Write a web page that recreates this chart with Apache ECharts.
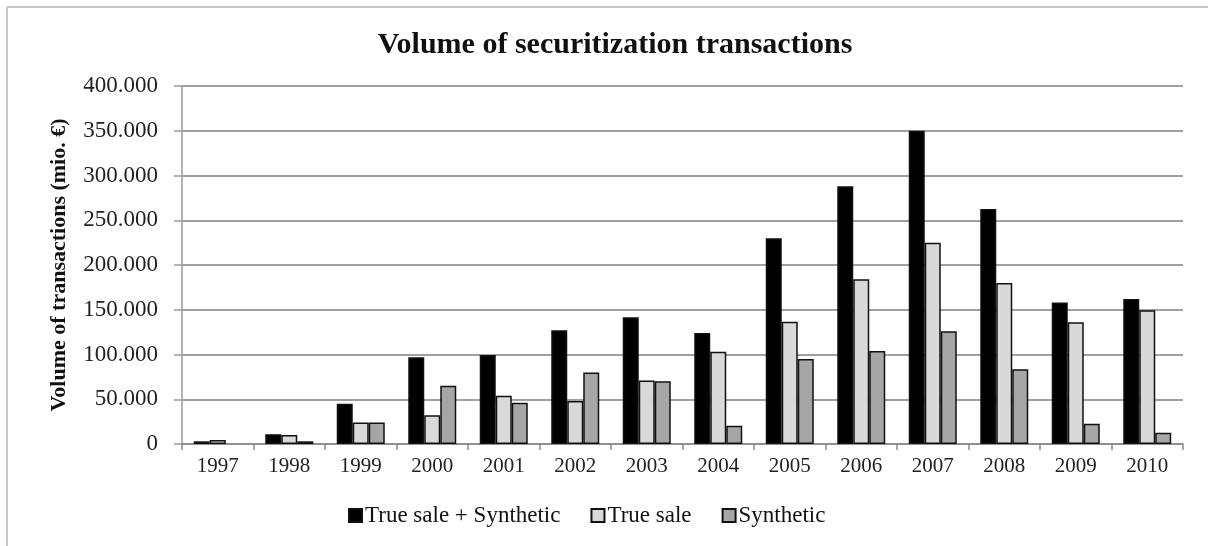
<!DOCTYPE html>
<html><head><meta charset="utf-8">
<script src="https://cdn.jsdelivr.net/npm/echarts@6/dist/echarts.min.js"></script>
<style>html,body{margin:0;padding:0;background:#fff}#c{width:1208px;height:546px}</style>
</head><body><div id="c"></div>
<script>
const years = ['1997','1998','1999','2000','2001','2002','2003','2004','2005','2006','2007','2008','2009','2010'];
const totalVals = [3000, 11000, 45000, 97000, 99500, 127000, 141500, 124000, 230000, 288000, 350000, 262500, 158000, 162000];
const trueSaleVals = [4500, 10000, 24000, 32000, 54000, 48000, 71000, 103000, 136500, 184000, 225000, 180000, 136000, 149500];
const syntheticVals = [null, 3000, 24000, 65000, 46000, 80000, 70000, 20500, 95000, 104000, 126000, 83500, 22500, 12500];
const seriesNames = ['True sale + Synthetic', 'True sale', 'Synthetic'];

const serif = '"Liberation Serif", "DejaVu Serif", serif';
const chart = echarts.init(document.getElementById('c'), null, {renderer: 'canvas'});
function fmt(v){ if (v === 0) return '0'; return String(v/1000) + '.000'; }
chart.setOption({
  animation: false,
  backgroundColor: '#fff',
  title: {
    text: 'Volume of securitization transactions',
    left: 610, top: 25, textAlign: 'center',
    textStyle: {fontFamily: serif, fontWeight: 'bold', fontSize: 30, color: '#111'}
  },
  graphic: [
    {type: 'line', shape: {x1: 7, y1: 7, x2: 1208, y2: 7}, style: {stroke: '#c8c8c8', lineWidth: 2}},
    {type: 'line', shape: {x1: 7, y1: 7, x2: 7, y2: 546}, style: {stroke: '#c8c8c8', lineWidth: 2}}
  ],
  legend: {
    bottom: 14, left: 343,
    itemWidth: 13, itemHeight: 13, itemGap: 30,
    icon: 'rect',
    textStyle: {fontFamily: serif, fontSize: 23, color: '#111', padding: [0,0,0,-2]},
    data: seriesNames
  },
  grid: {left: 182, right: 25, top: 86, bottom: 102, containLabel: false},
  xAxis: {
    type: 'category', data: years,
    axisLine: {show: true, lineStyle: {color: '#8a8a8a', width: 1.5}},
    axisTick: {show: true, length: 6, lineStyle: {color: '#8a8a8a', width: 1.5}},
    axisLabel: {fontFamily: serif, fontSize: 21, color: '#222', margin: 12}
  },
  yAxis: {
    type: 'value', min: 0, max: 400000, interval: 50000,
    name: 'Volume of transactions (mio. €)',
    nameLocation: 'middle', nameGap: 112,
    nameTextStyle: {fontFamily: serif, fontWeight: 'bold', fontSize: 22, color: '#111'},
    axisLine: {show: true, lineStyle: {color: '#9a9a9a', width: 1.5}},
    axisTick: {show: true, length: 8, lineStyle: {color: '#9a9a9a', width: 1.5}},
    axisLabel: {fontFamily: serif, fontSize: 23, color: '#222', margin: 24, formatter: fmt},
    splitLine: {show: true, lineStyle: {color: '#a0a0a0', width: 2}}
  },
  series: [
    {name: seriesNames[0], type: 'bar', data: totalVals, barWidth: 16, barGap: '0%',
     itemStyle: {color: '#000', borderColor: '#111', borderWidth: 1.5}},
    {name: seriesNames[1], type: 'bar', data: trueSaleVals, barWidth: 16, barGap: '0%',
     itemStyle: {color: '#d9d9d9', borderColor: '#111', borderWidth: 1.5}},
    {name: seriesNames[2], type: 'bar', data: syntheticVals, barWidth: 16, barGap: '0%',
     itemStyle: {color: '#a6a6a6', borderColor: '#111', borderWidth: 1.5}}
  ]
});
</script></body></html>
